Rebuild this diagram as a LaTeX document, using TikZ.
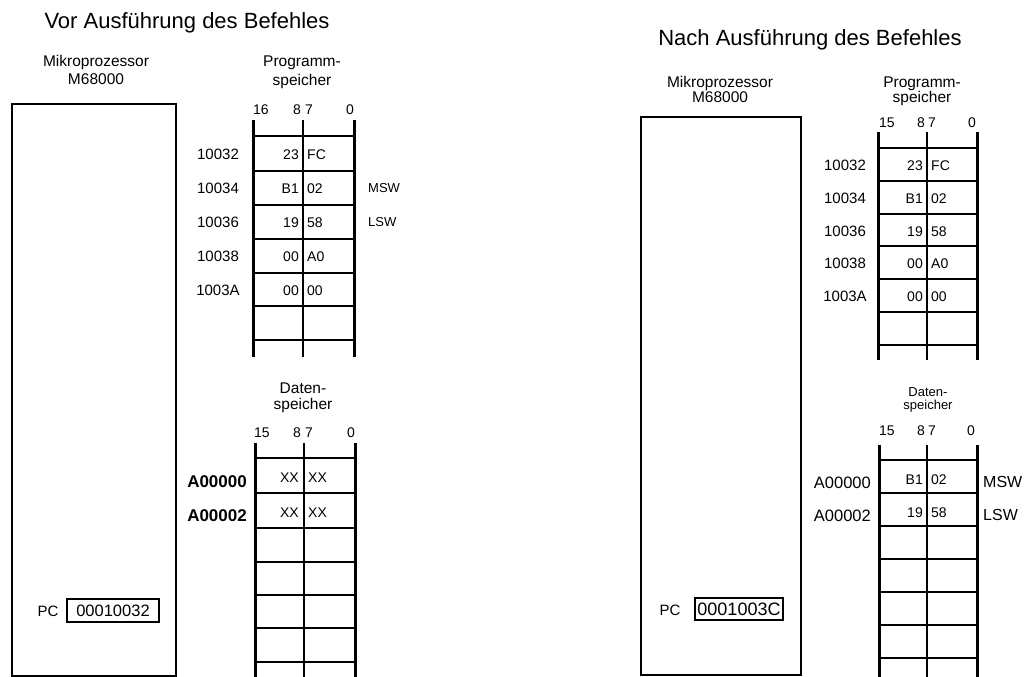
\documentclass[tikz,border=0pt]{standalone}
\usepackage{fontspec}
\setmainfont{Liberation Sans}
\begin{document}
\begin{tikzpicture}[x=1pt,y=-1pt,
  every node/.style={inner sep=0pt},
  ttl/.style={yshift=-7.9pt,font=\fontsize{22}{26}\selectfont},
  hd/.style={yshift=-5.6pt,font=\fontsize{15.5}{18}\selectfont},
  hds/.style={yshift=-4.7pt,font=\fontsize{13}{15}\selectfont},
  addr/.style={yshift=-5.4pt,font=\fontsize{15}{18}\selectfont},
  addrb/.style={yshift=-6.2pt,font=\fontsize{17}{20}\selectfont\bfseries},
  addrr/.style={yshift=-6.0pt,font=\fontsize{16.5}{20}\selectfont},
  cell/.style={yshift=-5.0pt,font=\fontsize{14}{16}\selectfont},
  bits/.style={yshift=-5.0pt,font=\fontsize{14}{16}\selectfont},
  wlab/.style={yshift=-4.7pt,font=\fontsize{13}{15}\selectfont},
  wlabr/.style={yshift=-5.8pt,font=\fontsize{16}{19}\selectfont},
  pclab/.style={yshift=-5.4pt,font=\fontsize{15}{18}\selectfont},
  pcbox/.style={draw,line width=1.5pt,inner sep=0pt},
  cpubox/.style={line width=2pt},
  rail/.style={line width=3pt},
  midrail/.style={line width=1.3pt},
  rowline/.style={line width=1.8pt}
]
\useasboundingbox (0,0) rectangle (1026,677);

% ================= LEFT PANEL =================
\node[ttl,anchor=base] (t1) at (187,21) {Vor Ausführung des Befehles};
\node[hd,anchor=base] (mpa1) at (96,61) {Mikroprozessor};
\node[hd,anchor=base] (mpb1) at (96,79) {M68000};
\draw[cpubox] (12,104) rectangle (176,676);
\node[pclab,anchor=base] (pcl1) at (48,611) {PC};
\node[pcbox,minimum width=92pt,minimum height=23pt,font=\fontsize{16.5}{19}\selectfont] (pcb1) at (113,610.5) {00010032};

% program memory (left)
\node[hd,anchor=base] (pha1) at (302,61) {Programm-};
\node[hd,anchor=base] (phb1) at (302,80) {speicher};
\node[bits,anchor=base west] (pb15a) at (253,109) {16};
\node[bits,anchor=base east] (pb8a) at (301,109) {8};
\node[bits,anchor=base west] (pb7a) at (305,109) {7};
\node[bits,anchor=base] (pb0a) at (350,109) {0};
\draw[rail] (253,120) -- (253,357);
\draw[rail] (354,120) -- (354,357);
\draw[midrail] (303,120) -- (303,357);
\foreach \yy in {136,171,205,239,273,306,340} \draw[rowline] (253,\yy) -- (354,\yy);
\foreach \yy/\ad/\hi/\lo/\nm in {154/10032/23/FC/a,188/10034/B1/02/b,222/10036/19/58/c,256/10038/00/A0/d,290/1003A/00/00/e}{
  \node[addr,anchor=base] (pa1\nm) at (218,\yy) {\ad};
  \node[cell,anchor=base east] (ph1\nm) at (299,\yy) {\hi};
  \node[cell,anchor=base west] (pl1\nm) at (307,\yy) {\lo};
}
\node[wlab,anchor=base west] (msw1) at (368,188) {MSW};
\node[wlab,anchor=base west] (lsw1) at (368,222) {LSW};

% data memory (left)
\node[hd,anchor=base] (dha1) at (303,388) {Daten-};
\node[hd,anchor=base] (dhb1) at (303,404) {speicher};
\node[bits,anchor=base west] (db15a) at (254,432) {15};
\node[bits,anchor=base east] (db8a) at (301,432) {8};
\node[bits,anchor=base west] (db7a) at (305,432) {7};
\node[bits,anchor=base] (db0a) at (351,432) {0};
\draw[rail] (255,443) -- (255,677);
\draw[rail] (355,443) -- (355,677);
\draw[midrail] (304,443) -- (304,677);
\foreach \yy in {458,493,528,562,595,628,662} \draw[rowline] (255,\yy) -- (355,\yy);
\node[addrb,anchor=base east] (da1a) at (247,481) {A00000};
\node[addrb,anchor=base east] (da1b) at (247,515) {A00002};
\node[cell,anchor=base east] (dh1a) at (299,477) {XX};
\node[cell,anchor=base west] (dl1a) at (308,477) {XX};
\node[cell,anchor=base east] (dh1b) at (299,512) {XX};
\node[cell,anchor=base west] (dl1b) at (308,512) {XX};

% ================= RIGHT PANEL =================
\node[ttl,anchor=base] (t2) at (810,38) {Nach Ausführung des Befehles};
\node[hd,anchor=base] (mpa2) at (720,82) {Mikroprozessor};
\node[hd,anchor=base] (mpb2) at (720,97) {M68000};
\draw[cpubox] (641,117) rectangle (801,675);
\node[pclab,anchor=base] (pcl2) at (670,610) {PC};
\node[pcbox,minimum width=88pt,minimum height=22pt,font=\fontsize{18}{21}\selectfont] (pcb2) at (739,609) {0001003C};

% program memory (right)
\node[hd,anchor=base] (pha2) at (922,82) {Programm-};
\node[hd,anchor=base] (phb2) at (922,97) {speicher};
\node[bits,anchor=base west] (pb15b) at (879,122) {15};
\node[bits,anchor=base east] (pb8b) at (925,122) {8};
\node[bits,anchor=base west] (pb7b) at (928,122) {7};
\node[bits,anchor=base] (pb0b) at (972,122) {0};
\draw[rail] (878,132) -- (878,360);
\draw[rail] (977,132) -- (977,360);
\draw[midrail] (927,132) -- (927,360);
\foreach \yy in {148,181,214,246,279,312,345} \draw[rowline] (878,\yy) -- (977,\yy);
\foreach \yy/\ad/\hi/\lo/\nm in {165/10032/23/FC/a,198/10034/B1/02/b,231/10036/19/58/c,263/10038/00/A0/d,296/1003A/00/00/e}{
  \node[addr,anchor=base] (pa2\nm) at (845,\yy) {\ad};
  \node[cell,anchor=base east] (ph2\nm) at (923,\yy) {\hi};
  \node[cell,anchor=base west] (pl2\nm) at (931,\yy) {\lo};
}

% data memory (right)
\node[hds,anchor=base] (dha2) at (928,392) {Daten-};
\node[hds,anchor=base] (dhb2) at (928,405) {speicher};
\node[bits,anchor=base west] (db15b) at (879,430) {15};
\node[bits,anchor=base east] (db8b) at (925,430) {8};
\node[bits,anchor=base west] (db7b) at (928,430) {7};
\node[bits,anchor=base] (db0b) at (971,430) {0};
\draw[rail] (879,445) -- (879,677);
\draw[rail] (977,445) -- (977,677);
\draw[midrail] (927,445) -- (927,677);
\foreach \yy in {460,493,526,559,592,625,658} \draw[rowline] (879,\yy) -- (977,\yy);
\node[addrr,anchor=base east] (da2a) at (871,482) {A00000};
\node[addrr,anchor=base east] (da2b) at (871,515) {A00002};
\node[cell,anchor=base east] (dh2a) at (923,479) {B1};
\node[cell,anchor=base west] (dl2a) at (931,479) {02};
\node[cell,anchor=base east] (dh2b) at (923,512) {19};
\node[cell,anchor=base west] (dl2b) at (931,512) {58};
\node[wlabr,anchor=base west] (msw2) at (983,482) {MSW};
\node[wlabr,anchor=base west] (lsw2) at (983,515) {LSW};
\end{tikzpicture}
\end{document}
